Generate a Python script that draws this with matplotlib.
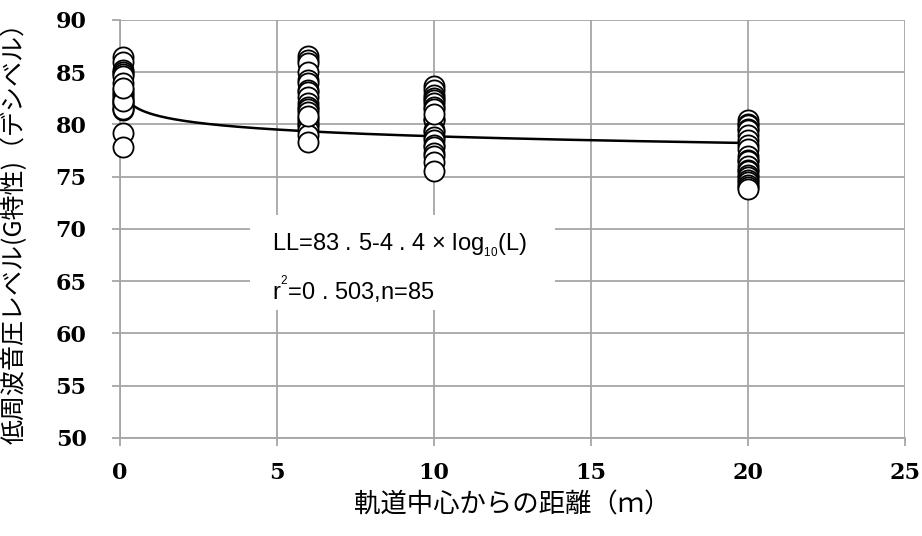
import numpy as np
import matplotlib
matplotlib.use("Agg")
import matplotlib.pyplot as plt
from matplotlib.patches import Rectangle

# --- data ---
dist_0 = 0.1
spl_0 = [86.4, 86.0, 85.2, 85.0, 84.8, 84.6, 84.0, 83.3, 83.0, 82.8, 82.5, 82.3,
         82.0, 81.9, 81.6, 81.4, 81.5, 79.2, 77.8, 82.2, 83.5]
dist_6 = 6.0
spl_6 = [86.5, 86.2, 85.9, 85.0, 84.2, 84.0, 83.3, 83.1, 82.6, 82.0, 81.7, 81.5,
         81.2, 80.6, 80.3, 80.0, 79.8, 79.5, 79.0, 78.3, 80.8]
dist_10 = 10.0
spl_10 = [83.7, 83.3, 82.8, 82.5, 82.3, 82.0, 81.7, 81.5, 80.5, 80.4, 79.5, 79.3,
          78.8, 78.5, 78.0, 77.8, 77.3, 77.0, 76.4, 75.5, 81.0]
dist_20 = 20.0
spl_20 = [80.4, 80.0, 79.9, 79.6, 79.5, 79.0, 78.5, 78.0, 77.6, 77.0, 76.6, 76.5,
          76.0, 75.6, 75.5, 75.2, 75.0, 74.7, 74.5, 74.2, 74.0, 73.8]

# trend curve as drawn (log fit, natural log)
fit_a = 81.0
fit_b = 0.93
fit_x_start = 0.05
fit_x_end = 20.0

eq_text = "LL=83 . 5-4 . 4 × log$_{_{10}}$(L)"
r2_text = "r$^{^{2}}$=0 . 503,n=85"

xticks = [0, 5, 10, 15, 20, 25]
yticks = [50, 55, 60, 65, 70, 75, 80, 85, 90]

plt.rcParams['font.family'] = ['Noto Sans CJK JP', 'DejaVu Sans']
plt.rcParams['mathtext.fontset'] = 'custom'
plt.rcParams['mathtext.rm'] = 'Liberation Sans'
plt.rcParams['mathtext.it'] = 'Liberation Sans'

fig = plt.figure(figsize=(9.22, 5.36), dpi=100, facecolor="white")
ax = fig.add_axes([0.130, 0.183, 0.852, 0.780])

grid_c = "#a6a6a6"
ax.set_xlim(0, 25)
ax.set_ylim(50, 90)
tick_font = dict(fontfamily="DejaVu Serif", fontsize=16, fontweight="bold", color="black")
ax.set_xticks(xticks, labels=[str(t) for t in xticks], **tick_font)
ax.set_yticks(yticks, labels=[str(t) for t in yticks], **tick_font)
ax.grid(True, color=grid_c, linewidth=1.3, zorder=0)
ax.set_axisbelow(True)
for s in ("top", "right"):
    ax.spines[s].set_visible(False)
for s in ("left", "bottom"):
    ax.spines[s].set_color(grid_c)
    ax.spines[s].set_linewidth(1.3)
ax.tick_params(axis="both", direction="out", length=6, width=1.3, color=grid_c)
ax.tick_params(axis="y", pad=18)
ax.tick_params(axis="x", pad=11)

# trend curve
xs = np.linspace(fit_x_start, fit_x_end, 400)
ax.plot(xs, fit_a - fit_b * np.log(xs), color="black", linewidth=1.8, zorder=3)

# scatter points
mk = dict(marker="o", markersize=14.5, markerfacecolor="white",
          markeredgecolor="black", markeredgewidth=1.3, linestyle="none",
          zorder=4, clip_on=False)
for d, vals in [(dist_0, spl_0), (dist_6, spl_6), (dist_10, spl_10), (dist_20, spl_20)]:
    ax.plot([d] * len(vals), vals, **mk)

# white label box covering the grid
ax.add_patch(Rectangle((4.15, 62.2), 9.7, 9.1, facecolor="white",
                       edgecolor="none", zorder=2))
ax.text(4.85, 68.4, eq_text, fontsize=17, family="Liberation Sans",
        va="center", ha="left", zorder=5)
ax.text(4.85, 64.2, r2_text, fontsize=17, family="Liberation Sans",
        va="center", ha="left", zorder=5)

ax.set_xlabel("軌道中心からの距離（ｍ）", fontsize=19, labelpad=6)
ax.set_ylabel("低周波音圧レベル(G特性)（デシベル）", fontsize=18)
ax.yaxis.set_label_coords(-0.117, 0.505)

fig.savefig("out.png", dpi=100, facecolor="white")
